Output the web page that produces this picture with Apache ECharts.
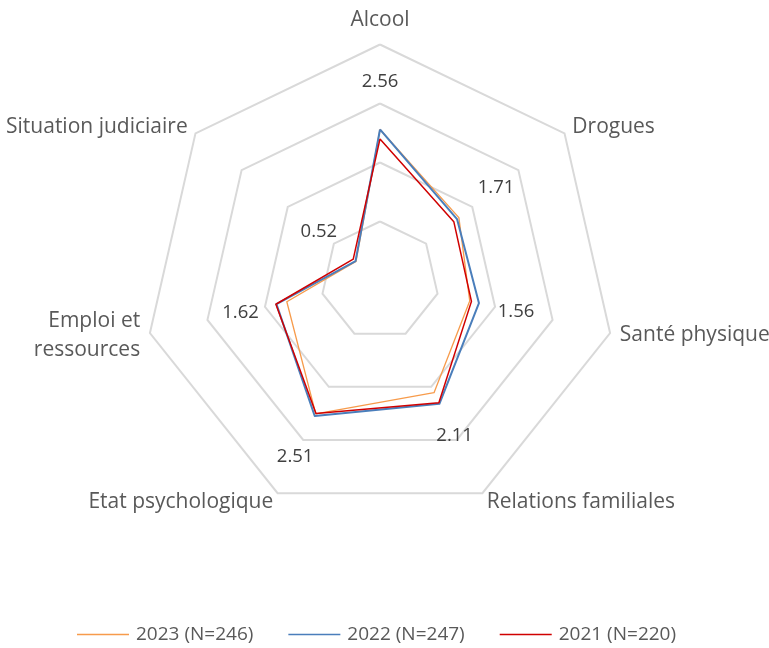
<!DOCTYPE html>
<html>
<head>
<meta charset="utf-8">
<script src="https://cdn.jsdelivr.net/npm/echarts@6/dist/echarts.min.js"></script>
<style>
  html, body { margin: 0; padding: 0; background: #ffffff; }
  #chart { width: 769px; height: 648px; }
</style>
</head>
<body>
<div id="chart"></div>
<script>
// Domains, listed clockwise starting from the top
const categories = [
  'Alcool',
  'Drogues',
  'Santé physique',
  'Relations familiales',
  'Etat psychologique',
  'Emploi et\nressources',
  'Situation judiciaire'
];

const seriesNames = ['2023 (N=246)', '2022 (N=247)', '2021 (N=220)'];

const values2023 = [2.56, 1.71, 1.56, 2.11, 2.51, 1.62, 0.52];
const values2022 = [2.56, 1.67, 1.72, 2.32, 2.55, 1.80, 0.53];
const values2021 = [2.40, 1.60, 1.59, 2.30, 2.50, 1.81, 0.58];

const scaleMax = 4;
const scaleSteps = 4;

// ECharts lays indicators out counter-clockwise; reorder so the domains run clockwise
const order = categories.map(function (_, i) { return i === 0 ? 0 : categories.length - i; });
const reorder = function (arr) { return order.map(function (i) { return arr[i]; }); };

const FONT = '"Open Sans", "Noto Sans", sans-serif';
const TEXT = '#595959';
const CX = 380, CY = 280.5, RADIUS = 236, LABEL_GAP = 47.5;

const chart = echarts.init(document.getElementById('chart'), null, { renderer: 'canvas' });

chart.setOption({
  backgroundColor: '#ffffff',
  animation: false,
  textStyle: { fontFamily: FONT },
  legend: {
    data: seriesNames,
    top: 620,
    left: 72,
    icon: 'rect',
    itemWidth: 52,
    itemHeight: 1.5,
    itemGap: 35,
    textStyle: { color: TEXT, fontSize: 19, fontFamily: FONT, padding: [0, 0, 0, 2] }
  },
  radar: {
    center: [CX, CY],
    radius: RADIUS,
    shape: 'polygon',
    startAngle: 90,
    splitNumber: scaleSteps,
    indicator: reorder(categories).map(function (c) { return { name: c, min: 0, max: scaleMax }; }),
    axisName: { color: TEXT, fontSize: 21, fontFamily: FONT, lineHeight: 29 },
    nameGap: 10,
    axisLine: { show: false },
    axisTick: { show: false },
    axisLabel: { show: false },
    splitArea: { show: false },
    splitLine: { lineStyle: { color: '#d9d9d9', width: 2 } }
  },
  series: [{
    type: 'radar',
    symbol: 'circle',
    symbolSize: 0.5,
    labelLayout: function (params) {
      const r = params.rect;
      const px = r.x + r.width / 2, py = r.y + r.height / 2;
      const dx = px - CX, dy = py - CY;
      const d = Math.sqrt(dx * dx + dy * dy) || 1;
      return {
        x: px + dx / d * LABEL_GAP,
        y: py + dy / d * LABEL_GAP,
        align: 'center',
        verticalAlign: 'middle'
      };
    },
    data: [
      {
        name: seriesNames[0],
        value: reorder(values2023),
        lineStyle: { color: '#F79B4B', width: 1.3 },
        itemStyle: { color: '#F79B4B' },
        label: {
          show: true,
          position: 'inside',
          color: '#404040',
          fontSize: 18.5,
          fontFamily: FONT,
          formatter: function (p) { return Number(p.value).toFixed(2); }
        }
      },
      {
        name: seriesNames[1],
        value: reorder(values2022),
        lineStyle: { color: '#4A7EBB', width: 2 },
        itemStyle: { color: '#4A7EBB' },
        label: { show: false }
      },
      {
        name: seriesNames[2],
        value: reorder(values2021),
        lineStyle: { color: '#D00000', width: 1.5 },
        itemStyle: { color: '#D00000' },
        label: { show: false }
      }
    ]
  }]
});
</script>
</body>
</html>
